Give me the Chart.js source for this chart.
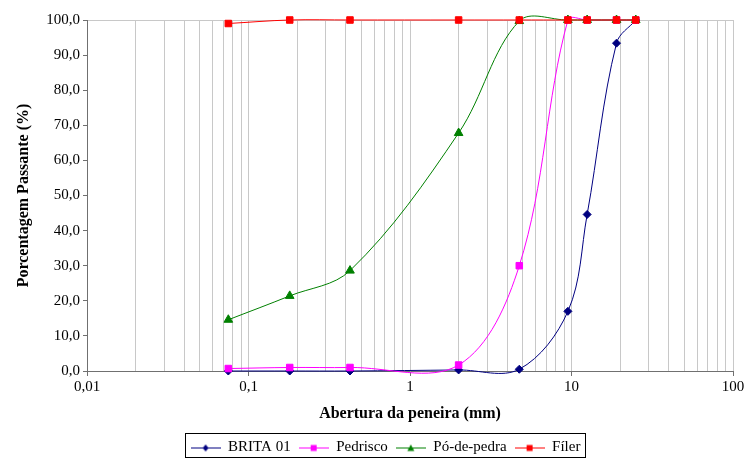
<!DOCTYPE html>
<html>
<head>
<meta charset="utf-8">
<script src="https://cdn.jsdelivr.net/npm/chart.js@4.4.1/dist/chart.umd.min.js"></script>
<style>
  html, body { margin: 0; padding: 0; background: #fff; }
</style>
</head>
<body>
<canvas id="granulometria" width="745" height="458"></canvas>
<script>
// abertura das peneiras (mm) e % passante
const peneiras = [0.075, 0.18, 0.425, 2.0, 4.75, 9.5, 12.5, 19, 25];
const brita01 = [0, 0, 0, 0.3, 0.5, 17.0, 44.6, 93.4, 100];
const pedrisco = [0.7, 1.0, 1.0, 1.7, 30.0, 100, 100, 100, 100];
const poDePedra = [14.6, 21.4, 28.6, 67.8, 99.7, 100, 100, 100, 100];
const filer = [99.0, 100, 100, 100, 100, 100, 100, 100, 100];

const seriesNames = ["BRITA 01", "Pedrisco", "Pó-de-pedra", "Fíler"];
const seriesColors = ["#000080", "#ff00ff", "#008000", "#ff0000"];
const xMajorTicks = [0.01, 0.1, 1, 10, 100];

const FONT = "'Liberation Serif', 'Times New Roman', serif";

function toPoints(values) {
  return peneiras.map((x, i) => ({ x: x, y: values[i] }));
}

// icone da legenda: linha com marcador no meio
function legendIcon(color, style) {
  const c = document.createElement("canvas");
  c.width = 30;
  c.height = 10;
  const g = c.getContext("2d");
  g.strokeStyle = color;
  g.fillStyle = color;
  g.lineWidth = 1;
  g.beginPath();
  g.moveTo(0, 5.5);
  g.lineTo(30, 5.5);
  g.stroke();
  g.beginPath();
  if (style === "rectRot") {
    g.moveTo(15, 2); g.lineTo(18, 5.5); g.lineTo(15, 9); g.lineTo(12, 5.5);
  } else if (style === "triangle") {
    g.moveTo(15, 2); g.lineTo(18.5, 8.5); g.lineTo(11.5, 8.5);
  } else {
    g.rect(12, 2.5, 6, 6);
  }
  g.closePath();
  g.fill();
  return c;
}

const markerStyles = ["rectRot", "rect", "triangle", "rect"];
const markerSizes = [4, 4.6, 5, 4.6];
const seriesValues = [brita01, pedrisco, poDePedra, filer];

const datasets = seriesNames.map((name, i) => ({
  label: name,
  data: toPoints(seriesValues[i]),
  borderColor: seriesColors[i],
  backgroundColor: seriesColors[i],
  borderWidth: 1,
  pointStyle: markerStyles[i],
  pointRadius: markerSizes[i],
  pointBorderWidth: 1,
  tension: 0.35,
  clip: false,
  order: seriesNames.length - i
}));

// legenda deslocada como no Excel + moldura
const legendFrame = {
  id: "legendFrame",
  afterLayout(chart) {
    const lg = chart.legend;
    if (!lg) return;
    lg.left += 19; lg.right += 19;
    lg.top += 7; lg.bottom += 7;
    if (lg.adjustHitBoxes) lg.adjustHitBoxes();
  },
  afterDraw(chart) {
    const lg = chart.legend;
    if (!lg || !lg.legendHitBoxes || !lg.legendHitBoxes.length) return;
    const boxes = lg.legendHitBoxes;
    let x0 = Infinity, x1 = -Infinity;
    boxes.forEach(b => { x0 = Math.min(x0, b.left); x1 = Math.max(x1, b.left + b.width); });
    const ctx = chart.ctx;
    ctx.save();
    ctx.strokeStyle = "#000";
    ctx.lineWidth = 1;
    ctx.strokeRect(Math.round(x0 - 6) + 0.5, 433.5, Math.round(x1 - x0 + 10), 24);
    ctx.restore();
  }
};

const ctx = document.getElementById("granulometria").getContext("2d");
const chart = new Chart(ctx, {
  type: "line",
  data: { datasets: datasets },
  plugins: [legendFrame],
  options: {
    responsive: false,
    animation: false,
    events: [],
    layout: { padding: { top: 20, right: 12, left: 0, bottom: 0 } },
    elements: { line: { capBezierPoints: false } },
    plugins: {
      tooltip: { enabled: false },
      legend: {
        position: "bottom",
        labels: {
          usePointStyle: true,
          pointStyleWidth: 30,
          boxHeight: 10,
          padding: 8,
          color: "#000",
          font: { family: FONT, size: 15 },
          generateLabels: (chart) => seriesNames.map((name, i) => ({
            text: name,
            datasetIndex: i,
            pointStyle: legendIcon(seriesColors[i], markerStyles[i]),
            fillStyle: seriesColors[i],
            strokeStyle: seriesColors[i],
            lineWidth: 0,
            hidden: false,
            fontColor: "#000"
          }))
        }
      }
    },
    scales: {
      x: {
        type: "logarithmic",
        min: 0.01,
        max: 100,
        afterFit: (s) => { s.height = 54; s.paddingRight = 0; s.paddingLeft = 0; },
        afterBuildTicks: (s) => {
          const t = [];
          for (let k = 0; k < xMajorTicks.length - 1; k++) {
            for (let m = 1; m <= 9; m++) {
              t.push({ value: +(m * xMajorTicks[k]).toPrecision(3) });
            }
          }
          t.push({ value: 100 });
          s.ticks = t;
        },
        ticks: {
          autoSkip: false,
          maxRotation: 0,
          padding: 2,
          color: "#000",
          font: { family: FONT, size: 15 },
          callback: (v) => xMajorTicks.includes(v) ? String(v).replace(".", ",") : ""
        },
        grid: {
          color: "#c8c8c8",
          lineWidth: 1,
          tickLength: 5,
          tickColor: (c) => (c.tick && xMajorTicks.includes(c.tick.value)) ? "#707070" : "rgba(0,0,0,0)"
        },
        border: { color: "#707070", width: 1 },
        title: {
          display: true,
          text: "Abertura da peneira (mm)",
          color: "#000",
          font: { family: FONT, size: 16, weight: "bold" },
          padding: { top: 0, bottom: 2 }
        }
      },
      y: {
        min: 0,
        max: 100,
        afterFit: (s) => { s.width = 87; },
        ticks: {
          stepSize: 10,
          padding: 3,
          color: "#000",
          font: { family: FONT, size: 15 },
          callback: (v) => v.toFixed(1).replace(".", ",")
        },
        grid: {
          drawOnChartArea: true,
          color: (c) => (c.tick && c.tick.value === 100) ? "#c8c8c8" : "rgba(0,0,0,0)",
          tickLength: 4,
          tickColor: "#707070"
        },
        border: { color: "#707070", width: 1 },
        title: {
          display: true,
          text: "Porcentagem Passante (%)",
          color: "#000",
          font: { family: FONT, size: 16, weight: "bold" },
          padding: { top: 14, bottom: 0 }
        }
      }
    }
  }
});
</script>
</body>
</html>
